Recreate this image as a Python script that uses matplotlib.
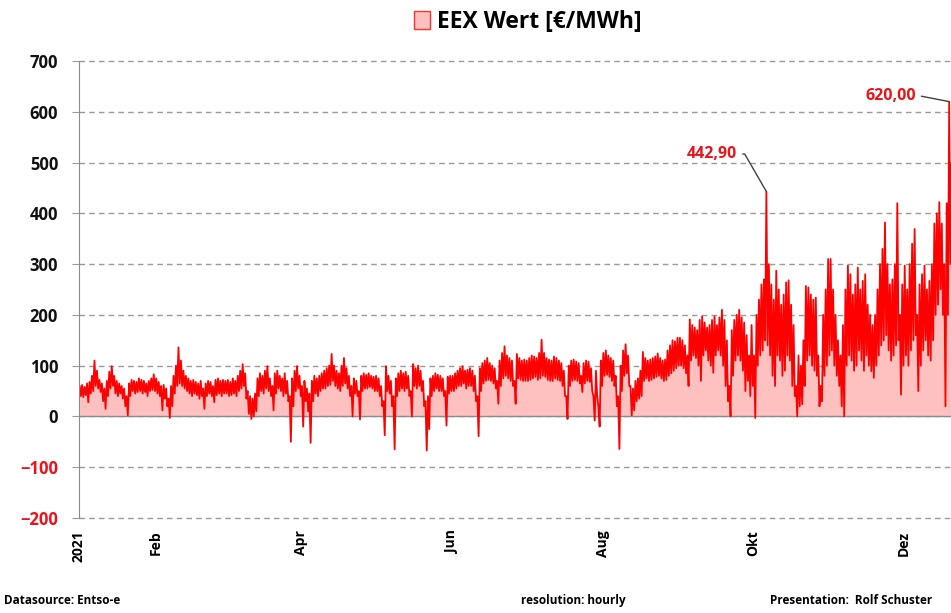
import matplotlib
matplotlib.use("Agg")
import matplotlib.pyplot as plt
from datetime import datetime, timedelta

plt.rcParams['font.family'] = ['Open Sans', 'DejaVu Sans']

# daily highs / lows of the hourly EEX price [EUR/MWh]
jan_high = [60, 62, 58, 65, 68, 80, 110, 90, 72, 65, 55, 70, 88, 99, 80, 70, 65, 60, 55, 40, 65, 72, 70, 68, 75, 72, 70, 65, 70, 75, 83]
jan_low = [40, 38, 42, 28, 45, 50, 60, 55, 48, 30, 15, 40, 55, 60, 45, 40, 45, 35, 20, 2, 40, 50, 45, 48, 50, 45, 48, 40, 50, 52, 50]
feb_high = [75, 68, 60, 62, 55, 35, 60, 80, 100, 136, 110, 90, 80, 75, 70, 72, 68, 65, 70, 55, 65, 70, 68, 60, 72, 75, 70, 72]
feb_low = [45, 40, 12, 35, 20, -3, 20, 45, 60, 65, 60, 55, 50, 45, 40, 45, 42, 35, 40, 15, 40, 45, 40, 28, 42, 45, 40, 45]
mar_high = [70, 72, 68, 75, 70, 80, 90, 103, 85, 50, 40, 35, 45, 75, 85, 80, 90, 99, 75, 60, 85, 90, 80, 75, 85, 70, 40, 75, 90, 99, 80]
mar_low = [45, 40, 42, 45, 40, 50, 55, 60, 35, 5, -5, 0, 10, 40, 50, 45, 55, 50, 40, 12, 45, 55, 50, 40, 45, 30, -50, 20, 50, 55, 40]
apr_high = [60, 70, 55, 45, 70, 80, 75, 80, 85, 90, 95, 100, 123, 100, 90, 85, 100, 115, 95, 80, 60, 75, 70, 50, 80, 85, 82, 85, 80, 78]
apr_low = [-20, 30, 10, -52, 30, 45, 40, 50, 55, 55, 60, 62, 70, 60, 55, 50, 60, 65, 55, 40, 0, 45, 40, -6, 50, 55, 55, 58, 55, 50]
may_high = [80, 75, 60, 30, 99, 80, 70, 40, 75, 85, 90, 85, 88, 80, 50, 103, 95, 100, 90, 70, 30, 40, 75, 80, 85, 82, 80, 75, 50, 78, 80]
may_low = [50, 40, 20, -37, 50, 45, 20, -65, 40, 50, 55, 50, 55, 40, 0, 60, 55, 60, 50, 20, -67, -25, 40, 50, 55, 50, 50, 40, -18, 45, 50]
jun_high = [80, 85, 90, 95, 99, 90, 92, 95, 90, 80, 40, 95, 105, 110, 115, 105, 100, 95, 70, 110, 125, 138, 120, 115, 110, 70, 123, 115, 110, 112]
jun_low = [50, 55, 60, 60, 65, 55, 60, 60, 50, 30, -39, 50, 65, 70, 72, 70, 65, 55, 25, 60, 75, 80, 75, 70, 60, 25, 75, 72, 70, 70]
jul_high = [110, 115, 120, 118, 115, 125, 151, 125, 115, 112, 110, 118, 115, 110, 105, 90, 40, 100, 110, 112, 108, 105, 80, 105, 110, 108, 95, 40, 90, 20, 110]
jul_low = [70, 72, 75, 78, 72, 75, 80, 78, 72, 70, 70, 75, 72, 70, 60, 40, -5, 60, 70, 72, 70, 65, 48, 65, 70, 68, 50, -8, 40, -20, 60]
aug_high = [125, 130, 120, 115, 110, 80, 40, 100, 130, 142, 120, 60, 55, 70, 75, 90, 127, 115, 110, 112, 115, 118, 124, 115, 110, 112, 130, 140, 150, 148, 155]
aug_low = [80, 82, 78, 70, 60, 20, -64, 50, 80, 85, 60, 2, 12, 30, 35, 40, 70, 75, 70, 72, 75, 78, 80, 75, 70, 72, 80, 85, 90, 95, 100]
sep_high = [155, 150, 140, 120, 191, 180, 175, 170, 190, 197, 185, 175, 180, 190, 197, 180, 195, 210, 190, 150, 60, 170, 190, 200, 210, 195, 185, 160, 120, 180]
sep_low = [100, 95, 85, 60, 110, 120, 115, 100, 70, 120, 130, 110, 100, 86, 120, 130, 120, 100, 60, 30, 0, 80, 110, 120, 110, 90, 50, 70, 40, 60]
oct_high = [120, 200, 230, 260, 270, 442.9, 300, 260, 230, 287, 250, 220, 240, 264, 268, 220, 180, 60, 120, 100, 150, 257, 254, 240, 230, 234, 120, 60, 200, 250, 310]
oct_low = [-3, 100, 120, 130, 150, 140, 120, 80, 60, 120, 110, 80, 90, 120, 110, 60, 40, 0, 20, 24, 60, 110, 120, 100, 90, 80, 20, 30, 80, 100, 120]
nov_high = [310, 250, 200, 150, 120, 180, 250, 297, 280, 240, 260, 293, 250, 267, 280, 220, 200, 180, 200, 250, 300, 330, 382, 300, 260, 270, 300, 420, 200, 260]
nov_low = [130, 100, 80, 60, 20, 0, 100, 120, 110, 90, 100, 130, 110, 90, 120, 100, 89, 76, 100, 120, 140, 150, 160, 130, 110, 120, 140, 150, 43, 100]
dec_high = [297, 250, 300, 340, 369, 200, 260, 280, 297, 250, 267, 300, 380, 400, 422, 380, 300, 420, 620, 500, 450]
dec_low = [120, 100, 130, 150, 160, 50, 100, 130, 150, 120, 110, 150, 200, 220, 250, 200, 20, 200, 300, 250, 220]

month_ticks = [1, 2, 4, 6, 8, 10, 12]
month_labels = ['2021', 'Feb', 'Apr', 'Jun', 'Aug', 'Okt', 'Dez']

highs = jan_high + feb_high + mar_high + apr_high + may_high + jun_high + jul_high + aug_high + sep_high + oct_high + nov_high + dec_high
lows = jan_low + feb_low + mar_low + apr_low + may_low + jun_low + jul_low + aug_low + sep_low + oct_low + nov_low + dec_low

start = datetime(2021, 1, 1)
times = []
prices = []
for d in range(len(highs)):
    times.append(start + timedelta(days=d + 0.25))
    prices.append(highs[d])
    times.append(start + timedelta(days=d + 0.75))
    prices.append(lows[d])

fig = plt.figure(figsize=(9.51, 6.13), dpi=100)
ax = fig.add_axes([0.0831, 0.155, 0.948, 0.7455])

ax.fill_between(times, prices, 0, color='#ffc0c0', linewidth=0, label='EEX Wert [€/MWh]')
ax.plot(times, prices, color='#ff0000', linewidth=1.3)
ax.axhline(0, color='#8c8c8c', linewidth=1, zorder=1)

ax.set_ylim(-200, 700)
ax.set_xlim(start, datetime(2021, 12, 31, 23))
ax.set_yticks(range(-200, 701, 100))
ax.yaxis.grid(True, linestyle=(0, (4, 3)), color='#9a9a9a', linewidth=1)
for gl in ax.get_ygridlines():
    gl.set_clip_on(False)
ax.set_axisbelow(True)

for s in ['top', 'right', 'bottom']:
    ax.spines[s].set_visible(False)
ax.spines['left'].set_color('#8c8c8c')

ax.tick_params(axis='y', length=5, color='#9a9a9a', pad=10, labelsize=12)
for lab, v in zip(ax.get_yticklabels(), range(-200, 701, 100)):
    lab.set_fontweight('bold')
    lab.set_color('#e8141c' if v < 0 else '#111111')

ax.set_xticks([datetime(2021, m, 1) for m in month_ticks])
ax.set_xticklabels(month_labels, rotation=90, fontweight='bold', fontsize=10, va='top')
ax.tick_params(axis='x', length=0, pad=9)

# annotate the two big peaks
p1 = prices.index(max(oct_high))
p2 = prices.index(max(prices))
ax.annotate(f"{prices[p1]:.2f}".replace('.', ','), xy=(times[p1], prices[p1]), xytext=(-21, 27),
            textcoords='offset points', ha='right', va='center', color='#e8141c', fontweight='bold', fontsize=11.5,
            arrowprops=dict(arrowstyle='-', color='#404040', lw=1, shrinkA=2, shrinkB=0,
                            connectionstyle='angle,angleA=0,angleB=120,rad=0'))
ax.annotate(f"{prices[p2]:.2f}".replace('.', ','), xy=(times[p2], prices[p2]), xytext=(-24, 4),
            textcoords='offset points', ha='right', va='center', color='#e8141c', fontweight='bold', fontsize=11.5,
            arrowprops=dict(arrowstyle='-', color='#404040', lw=1, shrinkA=2, shrinkB=0,
                            connectionstyle='angle,angleA=0,angleB=169,rad=0'))

h = plt.Rectangle((0, 0), 1, 1, facecolor='#ffc0c0', edgecolor='#ff3030', linewidth=1)
fig.legend([h], ['EEX Wert [€/MWh]'], loc='center', bbox_to_anchor=(0.5547, 0.964), frameon=False,
           prop={'weight': 'bold', 'size': 16.5}, handlelength=0.7, handleheight=0.85, handletextpad=0.3)

fig.text(0.004, 0.015, 'Datasource: Entso-e', fontsize=8.5, fontweight='bold')
fig.text(0.548, 0.015, 'resolution: hourly', fontsize=8.5, fontweight='bold')
fig.text(0.81, 0.015, 'Presentation:  Rolf Schuster', fontsize=8.5, fontweight='bold')

fig.savefig('out.png', dpi=100)
